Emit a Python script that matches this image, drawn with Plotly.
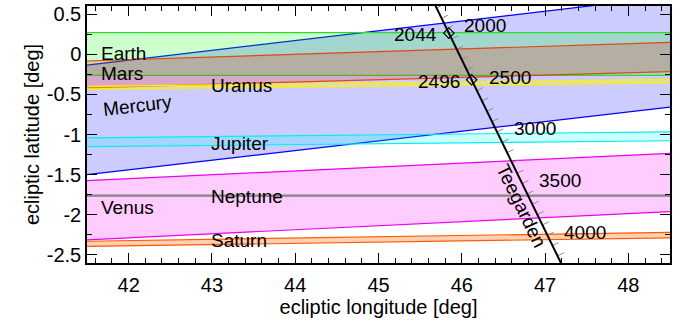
import math
import plotly.graph_objects as go

# Longitude span over which each transit band is defined (edges are straight lines)
lon_ends = [41.5, 48.5]

# Transit-zone band edges (ecliptic latitude, deg) at the two longitude ends
mercury_upper = [-0.135, 0.718]
mercury_lower = [-1.500, -0.660]
earth_upper = [0.268, 0.268]
earth_lower = [-0.265, -0.265]
mars_upper = [-0.085, 0.148]
mars_lower = [-0.419, -0.217]
uranus_upper = [-0.400, -0.313]
uranus_lower = [-0.436, -0.360]
jupiter_upper = [-1.041, -0.967]
jupiter_lower = [-1.152, -1.078]
venus_upper = [-1.574, -1.234]
venus_lower = [-2.312, -1.960]
neptune_upper = [-1.755, -1.755]
neptune_lower = [-1.768, -1.768]
saturn_upper = [-2.329, -2.218]
saturn_lower = [-2.394, -2.287]

# Teegarden's star: position at epoch 2000 and motion per year (deg)
tee_epoch = 2000
tee_lon0, tee_lat0 = 45.818, 0.319
tee_dlon, tee_dlat = 0.000605, -0.0012865
track_years = [1700, 4400]
tick_years = list(range(1800, 4300, 100))
label_years = [2000, 2500, 3000, 3500, 4000]
transit_years = [2044, 2496]

# Axis ticks
x_ticks = [42, 43, 44, 45, 46, 47, 48]
y_ticks = [-2.5, -2, -1.5, -1, -0.5, 0, 0.5]
y_ticktext = ["-2.5", "-2", "-1.5", "-1", "-0.5", "0", "0.5"]

X_RANGE = [41.5, 48.5]
Y_RANGE = [-2.6, 0.6]
W, H = 688, 327
M = dict(l=87, r=18, t=3, b=64)
FONT = "Liberation Sans, Arial, Helvetica, sans-serif"
LABEL_SIZE = 19

bands = [
    ("Mercury", mercury_upper, mercury_lower, "rgb(0,0,255)", "rgba(0,0,255,0.2)"),
    ("Earth", earth_upper, earth_lower, "rgb(40,220,40)", "rgba(0,255,0,0.2)"),
    ("Mars", mars_upper, mars_lower, "rgb(225,70,20)", "rgba(255,20,0,0.2)"),
    ("Uranus", uranus_upper, uranus_lower, "rgb(255,240,0)", "rgba(255,255,0,0.35)"),
    ("Jupiter", jupiter_upper, jupiter_lower, "rgb(0,240,240)", "rgba(0,255,255,0.2)"),
    ("Venus", venus_upper, venus_lower, "rgb(235,0,235)", "rgba(255,0,255,0.2)"),
    ("Neptune", neptune_upper, neptune_lower, "rgb(130,130,130)", "rgba(130,130,130,0.5)"),
    ("Saturn", saturn_upper, saturn_lower, "rgb(255,90,0)", "rgba(255,100,0,0.3)"),
]

fig = go.Figure()

for name, up, lo, lc, fc in bands:
    fig.add_trace(go.Scatter(
        x=lon_ends + lon_ends[::-1],
        y=up + lo[::-1],
        fill="toself", fillcolor=fc,
        mode="lines", line=dict(width=0),
        hoverinfo="skip", showlegend=False,
    ))
    for edge in (up, lo):
        fig.add_trace(go.Scatter(
            x=lon_ends, y=edge, mode="lines",
            line=dict(color=lc, width=1.2),
            hoverinfo="skip", showlegend=False,
        ))


def tee_pos(year):
    dt = year - tee_epoch
    return tee_lon0 + tee_dlon * dt, tee_lat0 + tee_dlat * dt


# Pixel scales, used to keep the year ticks perpendicular to the track on screen
plot_w = W - M["l"] - M["r"]
plot_h = H - M["t"] - M["b"]
sx = plot_w / (X_RANGE[1] - X_RANGE[0])
sy = plot_h / (Y_RANGE[1] - Y_RANGE[0])
ux, uy = tee_dlon * sx, -tee_dlat * sy
norm = math.hypot(ux, uy)
ux, uy = ux / norm, uy / norm
tick_len = 7.0
tick_dlon = uy * tick_len / sx
tick_dlat = ux * tick_len / sy

tx, ty = [], []
for yr in tick_years:
    x0, y0 = tee_pos(yr)
    tx += [x0, x0 + tick_dlon, None]
    ty += [y0, y0 + tick_dlat, None]
fig.add_trace(go.Scatter(
    x=tx, y=ty, mode="lines",
    line=dict(color="rgb(140,140,140)", width=1),
    hoverinfo="skip", showlegend=False,
))

track = [tee_pos(yr) for yr in track_years]
fig.add_trace(go.Scatter(
    x=[p[0] for p in track], y=[p[1] for p in track], mode="lines",
    line=dict(color="black", width=2),
    hoverinfo="skip", showlegend=False,
))

marks = [tee_pos(yr) for yr in transit_years]
fig.add_trace(go.Scatter(
    x=[p[0] for p in marks], y=[p[1] for p in marks], mode="markers",
    marker=dict(symbol="diamond-open", size=8, color="black", line=dict(width=1.2)),
    hoverinfo="skip", showlegend=False,
))

annotations = []
for yr in label_years:
    x0, y0 = tee_pos(yr)
    annotations.append(dict(
        x=x0, y=y0, text=str(yr), showarrow=False,
        xanchor="left", yanchor="middle", xshift=15, yshift=3,
        font=dict(size=LABEL_SIZE, color="black", family=FONT),
    ))
for yr in transit_years:
    x0, y0 = tee_pos(yr)
    annotations.append(dict(
        x=x0, y=y0, text=str(yr), showarrow=False,
        xanchor="right", yanchor="middle", xshift=-10, yshift=-1.5,
        font=dict(size=LABEL_SIZE, color="black", family=FONT),
    ))

planet_labels = [
    ("Earth", 41.65, 0.004, 0),
    ("Mars", 41.65, -0.238, 0),
    ("Mercury", 41.65, -0.645, -6.8),
    ("Uranus", 42.97, -0.389, 0),
    ("Jupiter", 42.97, -1.115, 0),
    ("Neptune", 42.97, -1.767, 0),
    ("Venus", 41.65, -1.914, 0),
    ("Saturn", 42.97, -2.32, 0),
]
for name, x, y, ang in planet_labels:
    annotations.append(dict(
        x=x, y=y, text=name, showarrow=False, textangle=ang,
        xanchor="left", yanchor="middle",
        font=dict(size=LABEL_SIZE, color="black", family=FONT),
    ))

annotations.append(dict(
    x=46.71, y=-1.89, text="Teegarden", showarrow=False,
    textangle=math.degrees(math.atan2(uy, ux)),
    xanchor="center", yanchor="middle",
    font=dict(size=LABEL_SIZE, color="black", family=FONT),
))

axis_common = dict(
    showline=True, linecolor="black", linewidth=1.5, mirror="ticks",
    ticks="inside", ticklen=10, tickwidth=1, tickcolor="black",
    showgrid=False, zeroline=False,
    tickfont=dict(size=20, color="black", family=FONT),
)

fig.update_layout(
    width=W, height=H, margin=M,
    paper_bgcolor="white", plot_bgcolor="white",
    annotations=annotations,
    xaxis=dict(
        range=X_RANGE, tickvals=x_ticks,
        minor=dict(dtick=0.2, tick0=42, ticks="inside", ticklen=5, tickcolor="black"),
        ticklabelstandoff=3,
        title=dict(text="ecliptic longitude [deg]",
                   font=dict(size=20, color="black", family=FONT), standoff=0),
        **axis_common,
    ),
    yaxis=dict(
        range=Y_RANGE, tickvals=y_ticks, ticktext=y_ticktext,
        minor=dict(dtick=0.25, tick0=0, ticks="inside", ticklen=5, tickcolor="black"),
        title=dict(text="ecliptic latitude [deg]",
                   font=dict(size=20, color="black", family=FONT), standoff=2),
        **axis_common,
    ),
)

fig.write_html("out.html")
